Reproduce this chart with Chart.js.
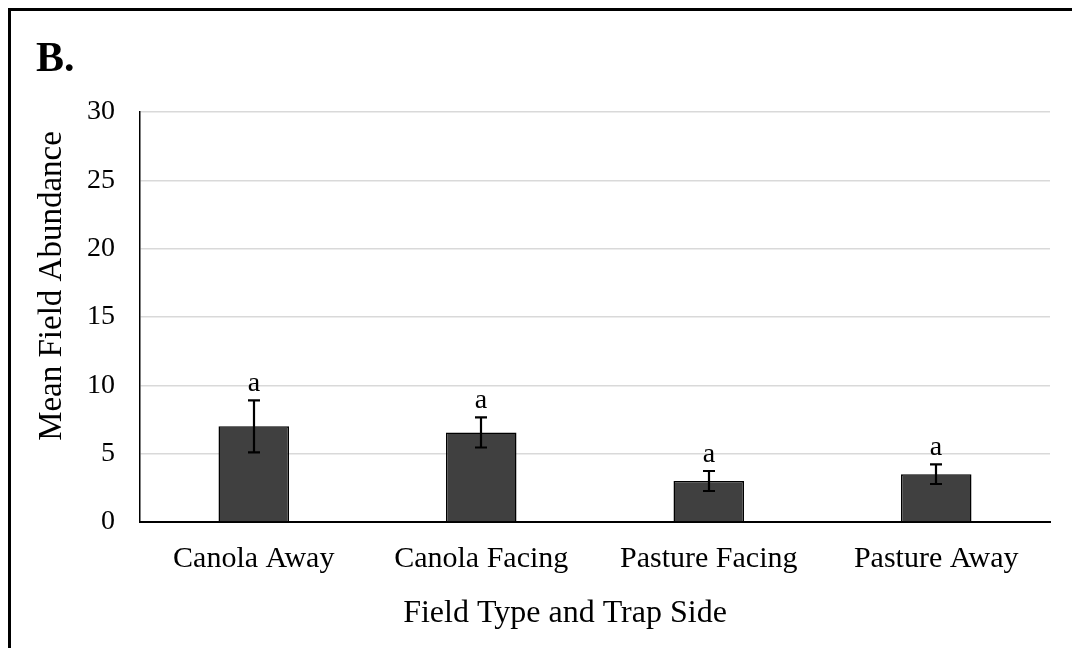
<!DOCTYPE html>
<html>
<head>
<meta charset="utf-8">
<script src="https://cdn.jsdelivr.net/npm/chart.js@4"></script>
<style>
html,body{margin:0;padding:0;background:#fff;}
#wrap{width:1072px;height:648px;position:relative;}
</style>
</head>
<body>
<div id="wrap"><canvas id="c" width="1072" height="648"></canvas></div>
<script>
const categories = ["Canola Away", "Canola Facing", "Pasture Facing", "Pasture Away"];
const means = [7.0, 6.55, 3.0, 3.5];
const errors = [1.9, 1.1, 0.73, 0.72];
const letters = ["a", "a", "a", "a"];
const yTicks = [0, 5, 10, 15, 20, 25, 30];
const panelLabel = "B.";
const xTitle = "Field Type and Trap Side";
const yTitle = "Mean Field Abundance";

const FONT = "'Liberation Serif', 'Times New Roman', serif";

const decorPlugin = {
  id: 'decor',
  beforeDraw(chart) {
    const ctx = chart.ctx;
    ctx.save();
    ctx.fillStyle = '#fff';
    ctx.fillRect(0, 0, chart.width, chart.height);
    ctx.strokeStyle = '#000';
    ctx.lineWidth = 3;
    ctx.strokeRect(9.5, 9.5, chart.width + 20, chart.height + 20);
    ctx.fillStyle = '#000';
    ctx.font = "bold 42px " + FONT;
    ctx.textBaseline = 'alphabetic';
    ctx.textAlign = 'left';
    ctx.fillText(panelLabel, 36, 71);
    // axis titles (offset from plot centre as in the original)
    ctx.font = "32px " + FONT;
    ctx.textAlign = 'center';
    ctx.fillText(xTitle, 565, 622);
    ctx.translate(61, 286);
    ctx.rotate(-Math.PI / 2);
    ctx.font = "33px " + FONT;
    ctx.fillText(yTitle, 0, 0);
    ctx.restore();
  },
  afterDatasetsDraw(chart) {
    const ctx = chart.ctx;
    const y = chart.scales.y;
    const meta = chart.getDatasetMeta(0);
    ctx.save();
    ctx.strokeStyle = '#000';
    ctx.lineWidth = 2.2;
    ctx.fillStyle = '#000';
    ctx.font = "28px " + FONT;
    ctx.textAlign = 'center';
    ctx.textBaseline = 'alphabetic';
    meta.data.forEach((bar, i) => {
      const x = Math.round(bar.x);
      const top = y.getPixelForValue(means[i] + errors[i]);
      const bot = y.getPixelForValue(means[i] - errors[i]);
      const cap = 6;
      ctx.beginPath();
      ctx.moveTo(x, top); ctx.lineTo(x, bot);
      ctx.moveTo(x - cap, top); ctx.lineTo(x + cap, top);
      ctx.moveTo(x - cap, bot); ctx.lineTo(x + cap, bot);
      ctx.stroke();
      ctx.fillText(letters[i], x, top - 9);
    });
    ctx.restore();
  }
};

new Chart(document.getElementById('c'), {
  type: 'bar',
  data: {
    labels: categories,
    datasets: [{
      data: means,
      backgroundColor: '#404040',
      borderColor: '#000',
      borderWidth: 1.5,
      barPercentage: 0.31,
      categoryPercentage: 1.0
    }]
  },
  options: {
    responsive: false,
    animation: false,
    devicePixelRatio: 1,
    layout: { padding: { top: 112, right: 22, left: 0, bottom: 0 } },
    plugins: { legend: { display: false }, tooltip: { enabled: false }, title: { display: false } },
    scales: {
      x: {
        offset: true,
        grid: { display: false, drawTicks: false },
        border: { display: true, color: '#000', width: 2 },
        ticks: { color: '#000', font: { family: FONT, size: 30 }, padding: 19 },
        title: { display: false, text: xTitle },
        afterFit(scale) { scale.height = 126; }
      },
      y: {
        min: 0, max: 30,
        afterBuildTicks(scale) { scale.ticks = yTicks.map(v => ({ value: v })); },
        grid: { color: '#d9d9d9', lineWidth: 1.5, drawTicks: false },
        border: { display: true, color: '#000', width: 1.5 },
        ticks: { color: '#000', font: { family: FONT, size: 28 }, padding: 25 },
        title: { display: false, text: yTitle },
        afterFit(scale) { scale.width = 140; }
      }
    }
  },
  plugins: [decorPlugin]
});
</script>
</body>
</html>
